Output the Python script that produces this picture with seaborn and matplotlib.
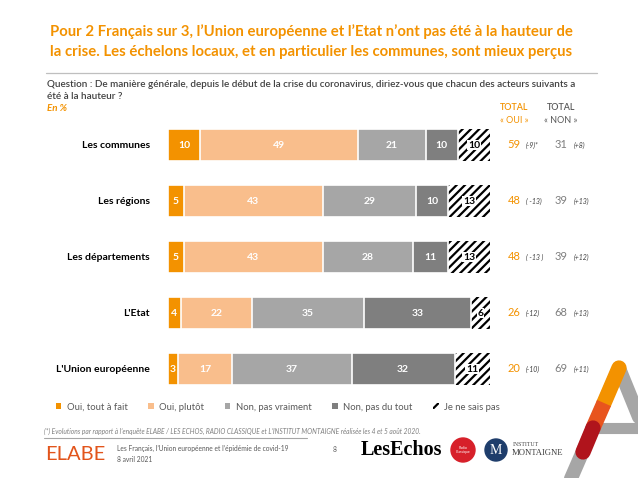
'''Evaluation des acteurs publics pendant la crise du coronavirus (ELABE, avril 2021)
'''

import numpy as np
import pandas as pd
import matplotlib.pyplot as plt
import matplotlib.transforms as mtransforms
from matplotlib.patches import Patch, Circle
import seaborn as sns

acteurs = ['Les communes', 'Les régions', 'Les départements', "L'Etat", "L'Union européenne"]
oui_tout = [10, 5, 5, 4, 3]
oui_plutot = [49, 43, 43, 22, 17]
non_vraiment = [21, 29, 28, 35, 37]
non_du_tout = [10, 10, 11, 33, 32]
nsp = [10, 13, 13, 6, 11]
total_oui = [59, 48, 48, 26, 20]
total_non = [31, 39, 39, 68, 69]
evol_oui = ['(-9)*', '( -13)', '( -13 )', '(-12)', '(-10)']
evol_non = ['(+8)', '(+13)', '(+12)', '(+13)', '(+11)']
reponses = ['Oui, tout à fait', 'Oui, plutôt', 'Non, pas vraiment', 'Non, pas du tout', 'Je ne sais pas']

ORANGE = '#F39200'
colors = [ORANGE, '#F9BE8C', '#A6A6A6', '#7F7F7F', 'white']

sns.set_style('white')
plt.rcParams['font.family'] = ['Lato', 'DejaVu Sans']
plt.rcParams['hatch.linewidth'] = 1.6
plt.rcParams['hatch.color'] = 'black'

W, H = 638, 478
fig = plt.figure(figsize=(W / 100, H / 100), dpi=100)

# decoration layer in pixel coordinates
deco = fig.add_axes([0, 0, 1, 1], zorder=0)
deco.set_xlim(0, W)
deco.set_ylim(H, 0)
deco.axis('off')

deco.text(50, 32, "Pour 2 Français sur 3, l’Union européenne et l’Etat n’ont pas été à la hauteur de",
          color=ORANGE, fontsize=10.7, fontweight='bold', va='center')
deco.text(50, 52, "la crise. Les échelons locaux, et en particulier les communes, sont mieux perçus",
          color=ORANGE, fontsize=10.7, fontweight='bold', va='center')
deco.plot([46, 597], [72.5, 72.5], color='#BFBFBF', lw=0.9)
deco.text(47, 84, "Question : De manière générale, depuis le début de la crise du coronavirus, "
          "diriez-vous que chacun des acteurs suivants a", color='#404040', fontsize=7.1,
          fontweight='semibold', va='center')
deco.text(47, 96, "été à la hauteur ?", color='#404040', fontsize=7.1, fontweight='semibold', va='center')
deco.text(47, 108, "En %", color=ORANGE, fontsize=7, fontweight='bold', style='italic', va='center')

deco.text(514, 107, "TOTAL", color=ORANGE, fontsize=6.5, fontweight='semibold', ha='center', va='center')
deco.text(514, 120, "« OUI »", color=ORANGE, fontsize=6.5, ha='center', va='center')
deco.text(561, 107, "TOTAL", color='#595959', fontsize=6.5, fontweight='semibold', ha='center', va='center')
deco.text(561, 120, "« NON »", color='#595959', fontsize=6.5, ha='center', va='center')

# footer
deco.text(44, 431, "(*) Evolutions par rapport à l’enquête ELABE / LES ECHOS, RADIO CLASSIQUE et "
          "L’INSTITUT MONTAIGNE réalisée les 4 et 5 août 2020.", color='#7F7F7F', fontsize=4.8,
          style='italic', va='center')
deco.plot([44, 307], [438, 438], color='#A6A6A6', lw=0.8)
deco.text(45, 454, "ELABE", color='#E2541B', fontsize=14.5, fontweight='normal', va='center')
deco.text(117, 448, "Les Français, l’Union européenne et l’épidémie de covid-19", color='#595959',
          fontsize=4.8, va='center')
deco.text(117, 459, "8 avril 2021", color='#595959', fontsize=4.8, va='center')
deco.text(333, 449, "8", color='#595959', fontsize=4.8, va='center')
deco.text(361, 450, "LesEchos", color='black', fontsize=14.5, fontweight='bold',
          family='Liberation Serif', va='center')
deco.add_patch(Circle((463, 450), 12, color='#D7202A'))
deco.text(463, 450, "Radio\nClassique", color='white', fontsize=2.5, ha='center', va='center')
deco.add_patch(Circle((496, 450), 11, color='#1E3D6B'))
deco.text(496, 451, "M", color='white', fontsize=10, family='Liberation Serif', ha='center', va='center')
deco.text(513, 445, "INSTITUT", color='#404040', fontsize=4.2, family='Liberation Serif', va='center')
deco.text(512, 453, "MONTAIGNE", color='#404040', fontsize=6.2, family='Liberation Serif', va='center')

# the "A" logo bottom right
deco.plot([619, 566], [368, 490], color='#A6A6A6', lw=10, solid_capstyle='round')
deco.plot([619, 645], [368, 432], color='#A6A6A6', lw=10, solid_capstyle='round')
deco.plot([590, 645], [428, 428], color='#A6A6A6', lw=8)
deco.plot([619, 604], [368, 403], color='#F39200', lw=11, solid_capstyle='round')
deco.plot([604, 593], [403, 428], color='#E8541E', lw=11, solid_capstyle='butt')
deco.plot([593, 583], [428, 452], color='#B0141C', lw=11, solid_capstyle='round')

# stacked bars
ax = fig.add_axes([168 / W, 1 - 397 / H, 322 / W, 280 / H], zorder=2)
ax.patch.set_alpha(0)
parts = np.array([oui_tout, oui_plutot, non_vraiment, non_du_tout, nsp])
cum = parts.cumsum(axis=0)
df = pd.DataFrame(cum.T, columns=reponses)
df['acteur'] = acteurs

for i in range(len(reponses) - 1, -1, -1):
    if i == len(reponses) - 1:
        sns.barplot(data=df, x=reponses[i], y='acteur', orient='h', color='white', saturation=1,
                    width=0.57, hatch='////', edgecolor='black', linewidth=0, ax=ax)
    else:
        sns.barplot(data=df, x=reponses[i], y='acteur', orient='h', color=colors[i], saturation=1,
                    width=0.57, edgecolor='white', linewidth=1.2, ax=ax)

for i in range(len(reponses)):
    for j in range(len(acteurs)):
        xc = cum[i, j] - parts[i, j] / 2
        if i == len(reponses) - 1:
            ax.text(xc, j, str(parts[i, j]), color='black', fontsize=7.5, fontweight='bold',
                    ha='center', va='center',
                    bbox=dict(facecolor='white', edgecolor='none', pad=0.6))
        else:
            ax.text(xc, j, str(parts[i, j]), color='white', fontsize=7.5, fontweight='bold',
                    ha='center', va='center')

ax.set_xlim(0, 100)
ax.set_ylim(len(acteurs) - 0.5, -0.5)
ax.set_xlabel('')
ax.set_ylabel('')
ax.set_xticks([])
ax.tick_params(axis='y', length=0, pad=13)
for lab in ax.get_yticklabels():
    lab.set_fontweight('bold')
    lab.set_fontsize(7.5)
    lab.set_color('black')
sns.despine(ax=ax, left=True, bottom=True)

# totals on the right
tr = mtransforms.blended_transform_factory(fig.transFigure, ax.transData)
for j in range(len(acteurs)):
    ax.text(514 / W, j, str(total_oui[j]), transform=tr, color=ORANGE, fontsize=8,
            ha='center', va='center', clip_on=False)
    ax.text(526 / W, j, evol_oui[j], transform=tr, color='#404040', fontsize=5,
            style='italic', ha='left', va='center', clip_on=False)
    ax.text(561 / W, j, str(total_non[j]), transform=tr, color='#7F7F7F', fontsize=8,
            ha='center', va='center', clip_on=False)
    ax.text(574 / W, j, evol_non[j], transform=tr, color='#404040', fontsize=5,
            style='italic', ha='left', va='center', clip_on=False)

# legend
handles = [Patch(facecolor=c, edgecolor='none') for c in colors[:-1]]
handles.append(Patch(facecolor='white', edgecolor='black', hatch='////', linewidth=0))
fig.legend(handles, reponses, loc='center', bbox_to_anchor=(278 / W, 1 - 407 / H), ncol=5,
           frameon=False, fontsize=6.8, labelcolor='#595959', handlelength=0.55, handleheight=0.55,
           handletextpad=0.6, columnspacing=2.2)

fig.savefig('out.png', dpi=100)
